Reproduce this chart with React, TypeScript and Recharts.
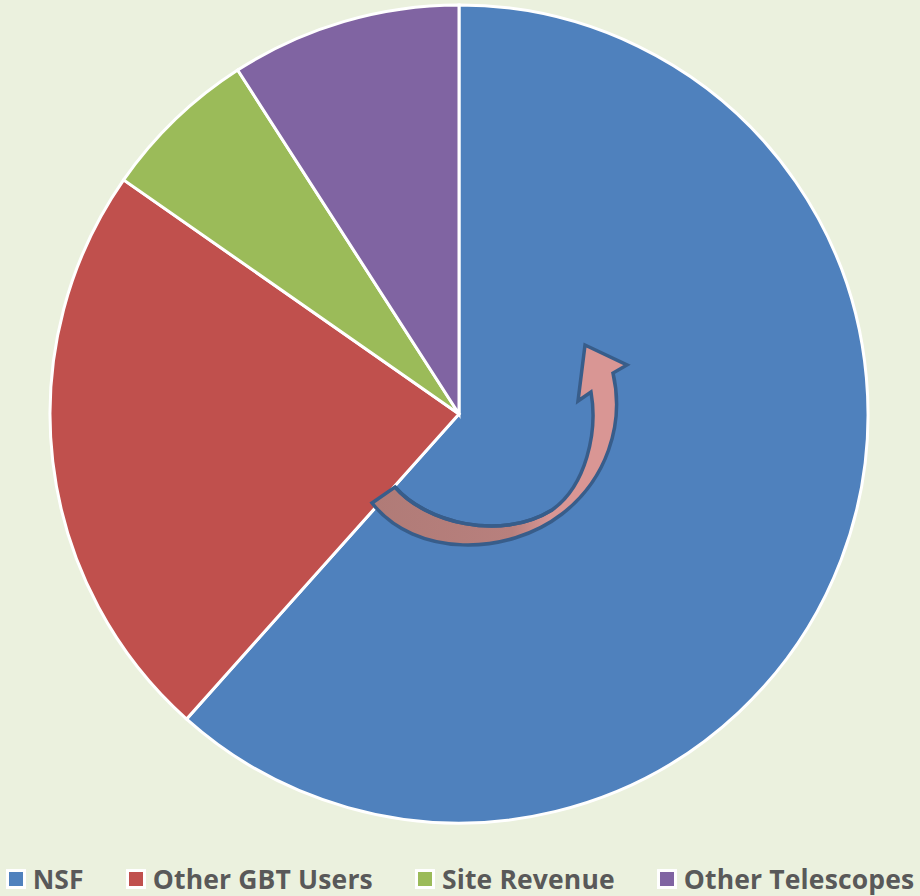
import React from "react";
import { Cell, Legend, Pie, PieChart } from "recharts";

// Funding sources, clockwise from 12 o'clock
const SOURCES = ["NSF", "Other GBT Users", "Site Revenue", "Other Telescopes"];
const SHARES = [61.6, 23.1, 6.2, 9.1];
const COLORS = ["#4F81BD", "#C0504D", "#9BBB59", "#8064A2"];

const BG = "#EBF1DE";
const W = 920;
const H = 896;

const rows = SOURCES.map((name, i) => ({ name, value: SHARES[i] }));

function LegendRow() {
  return (
    <div
      style={{
        display: "flex",
        alignItems: "center",
        justifyContent: "center",
        fontFamily: "'Open Sans', sans-serif",
        fontWeight: 700,
        fontSize: 26.5,
        letterSpacing: 0.15,
        color: "#595959",
        lineHeight: "30px",
      }}
    >
      {SOURCES.map((name, i) => (
        <div
          key={name}
          style={{
            display: "flex",
            alignItems: "center",
            marginLeft: i === 0 ? 0 : 42,
          }}
        >
          <span
            style={{
              display: "inline-block",
              width: 14,
              height: 14,
              background: COLORS[i],
              border: "3px solid #fff",
              marginRight: 7,
            }}
          />
          <span>{name}</span>
        </div>
      ))}
    </div>
  );
}

// decorative curved arrow drawn over the NSF slice
function CurvedArrow() {
  return (
    <svg
      width={W}
      height={H}
      style={{ position: "absolute", left: 0, top: 0, pointerEvents: "none" }}
    >
      <defs>
        <linearGradient id="arrowFill" x1="0" y1="0" x2="1" y2="0">
          <stop offset="0%" stopColor="#B07B77" />
          <stop offset="55%" stopColor="#B8807D" />
          <stop offset="70%" stopColor="#D99694" />
          <stop offset="100%" stopColor="#D99694" />
        </linearGradient>
      </defs>
      <path
        d="M 372 503 L 395 487 C 425 522, 500 542, 552 510 C 586 486, 598 432, 591 392 L 578 401 L 585 345 L 627 365 L 613 373 C 625 425, 606 480, 562 514 C 508 556, 415 558, 372 503 Z"
        fill="url(#arrowFill)"
        stroke="#385D8A"
        strokeWidth={3.5}
        strokeLinejoin="miter"
      />
      <path
        d="M 395 487 C 425 522, 500 542, 552 510"
        fill="none"
        stroke="#385D8A"
        strokeWidth={3.5}
      />
    </svg>
  );
}

export default function App() {
  return (
    <div
      style={{
        position: "fixed",
        left: 0,
        top: 0,
        width: W,
        height: H,
        background: BG,
        overflow: "hidden",
      }}
    >
      <PieChart width={W} height={H} margin={{ top: 0, right: 0, bottom: 0, left: 0 }}>
        <Pie
          data={rows}
          dataKey="value"
          nameKey="name"
          cx={459}
          cy={414}
          outerRadius={409}
          startAngle={90}
          endAngle={-270}
          stroke="#FFFFFF"
          strokeWidth={3}
          isAnimationActive={false}
        >
          {rows.map((r, i) => (
            <Cell key={r.name} fill={COLORS[i]} />
          ))}
        </Pie>
        <Legend
          verticalAlign="bottom"
          align="center"
          content={() => <LegendRow />}
          wrapperStyle={{ bottom: 2, left: 0, width: W }}
        />
      </PieChart>
      <CurvedArrow />
    </div>
  );
}
